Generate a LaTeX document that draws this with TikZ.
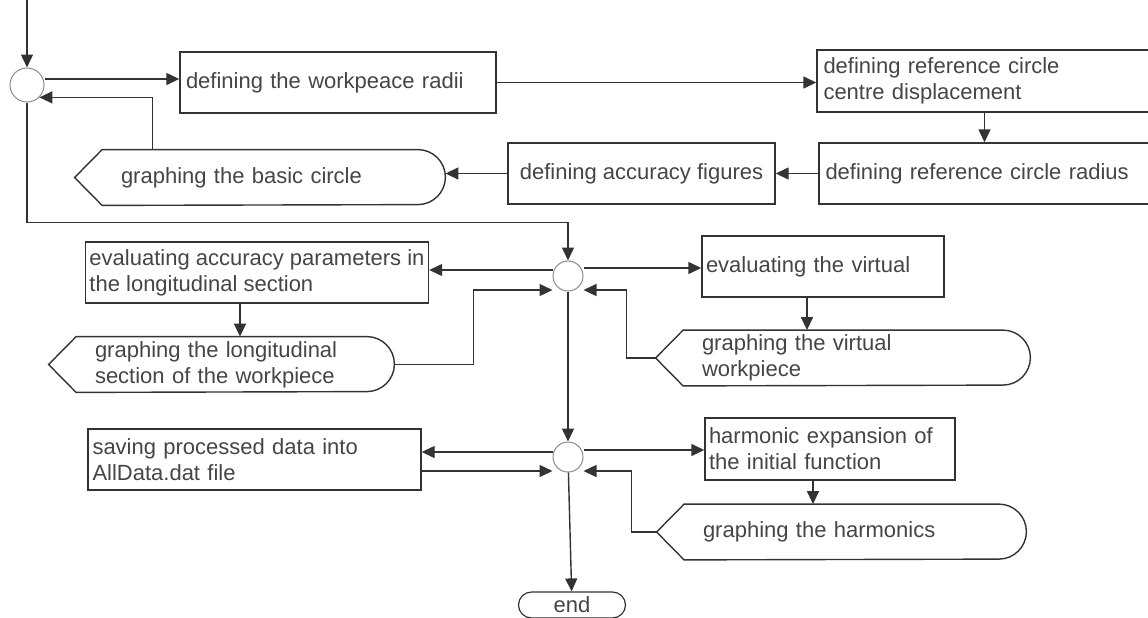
\documentclass[tikz,border=0pt]{standalone}
\usepackage{fontspec}
\setmainfont{Liberation Sans}
\usetikzlibrary{arrows.meta}

\definecolor{linec}{HTML}{333333}
\definecolor{textc}{HTML}{454545}

\begin{document}
\begin{tikzpicture}[x=0.5pt, y=-0.5pt,
    every node/.style={font=\fontsize{11}{13}\selectfont},
    proc/.style={draw=linec, line width=0.7pt, text=textc, align=left,
      inner xsep=2pt, inner ysep=0pt, minimum height=30.5pt},
    junc/.style={circle, draw=black!45, line width=0.5pt, minimum size=15pt, inner sep=0pt},
    disp/.style={text=textc, align=left, inner xsep=23pt, inner ysep=0pt,
      minimum height=27.5pt,
      append after command={\pgfextra{\let\dn\tikzlastnode
        \draw[draw=linec, line width=0.7pt]
          (\dn.west) -- ([xshift=13.75pt]\dn.north west)
          -- ([xshift=-13.75pt]\dn.north east)
          arc[start angle=90, end angle=-90, radius=13.75pt]
          -- ([xshift=13.75pt]\dn.south west) -- cycle;}}},
    term/.style={draw=linec, line width=0.6pt, rounded corners=6.5pt, text=textc,
      minimum width=53.5pt, minimum height=13pt, inner sep=0pt},
    arr/.style={draw=linec, line width=0.7pt, -{Triangle[length=6.5pt,width=6pt]}}]
  \clip (0,0) rectangle (1148,617);

  \coordinate (start) at (27,0);
  \node[junc, minimum size=17pt] (c1) at (27,85) {};
  \node[proc, minimum width=158pt, text width=152pt] (radii) at (338,82.5) {defining the workpeace radii};
  \node[proc, minimum width=167.5pt, minimum height=31pt, text width=161pt] (centre) at (984.5,81) {defining reference circle\\centre displacement};
  \node[proc, minimum width=166.5pt, text width=160pt] (radius) at (985.5,173.5) {defining reference circle radius};
  \node[proc, minimum width=133.5pt] (accuracy) at (641.5,173.5) {defining accuracy figures};
  \node[disp, minimum width=185pt, text width=139pt] (basic) at (260,177.5) {graphing the basic circle};

  \node[junc] (c2) at (568,276) {};
  \node[proc, minimum width=170pt] (eval) at (257,272.5) {evaluating accuracy parameters in\\the longitudinal section};
  \node[disp, minimum width=172.5pt, text width=126.5pt] (longi) at (221.5,364.5) {graphing the longitudinal\\section of the workpiece};
  \node[proc, minimum width=121pt, text width=117pt] (virt) at (823,266.5) {evaluating the virtual};
  \node[disp, minimum width=187pt, text width=141pt] (vdisp) at (843,358) {graphing the virtual\\workpiece};

  \node[junc] (c3) at (568,457) {};
  \node[proc, minimum width=166.5pt, text width=162pt] (save) at (254.5,459.5) {saving processed data into\\AllData.dat file};
  \node[proc, minimum width=125pt, minimum height=31pt, text width=121pt] (harm) at (830,449) {harmonic expansion of\\the initial function};
  \node[disp, minimum width=184.5pt, text width=138.5pt] (hdisp) at (841.5,532) {graphing the harmonics};
  \node[term] (end) at (572,605) {end};

  \draw[arr] (start) -- (c1);
  \draw[arr] ([yshift=3pt]c1.east) -- ([yshift=3pt]c1.east -| radii.west);
  \draw[arr] (radii.east) -- (radii.east -| centre.west);
  \draw[arr] (centre.south) -- (centre.south |- radius.north);
  \draw[arr] (radius.west) -- (accuracy.east);
  \draw[arr] (accuracy.west) -- (accuracy.west -| basic.east);
  \draw[arr] ([xshift=39pt]basic.north west) |- (c1.-45);
  \draw[arr] (c1.south) -- ++(0,120) -| (c2.north);

  \draw[arr] ([yshift=3pt]c2.west) -- ([yshift=3pt]c2.west -| eval.east);
  \draw[arr] ([xshift=-8.5pt]eval.south) -- ([xshift=-8.5pt]eval.south |- longi.north);
  \draw[arr] (longi.east) -- ++(79,0) |- ([yshift=-7pt]c2.west);
  \draw[arr] ([yshift=4pt]c2.east) -- ([yshift=4pt]c2.east -| virt.west);
  \draw[arr] ([xshift=-8pt]virt.south) -- ([xshift=-8pt]virt.south |- vdisp.north);
  \draw[arr] (vdisp.west) -- ++(-29,0) |- ([yshift=-7pt]c2.east);
  \draw[arr] (c2) -- (c3);

  \draw[arr] ([yshift=2.5pt]c3.west) -- ([yshift=2.5pt]c3.west -| save.east);
  \draw[arr] ([yshift=-7pt]c3.west -| save.east) -- ([yshift=-7pt]c3.west);
  \draw[arr] ([yshift=3.5pt]c3.east) -- ([yshift=3.5pt]c3.east -| harm.west);
  \draw[arr] ([xshift=-8.5pt]harm.south) -- ([xshift=-8.5pt]harm.south |- hdisp.north);
  \draw[arr] (hdisp.west) -- ++(-25,0) |- ([yshift=-7pt]c3.east);
  \draw[arr] (c3) -- (end);
\end{tikzpicture}
\end{document}
